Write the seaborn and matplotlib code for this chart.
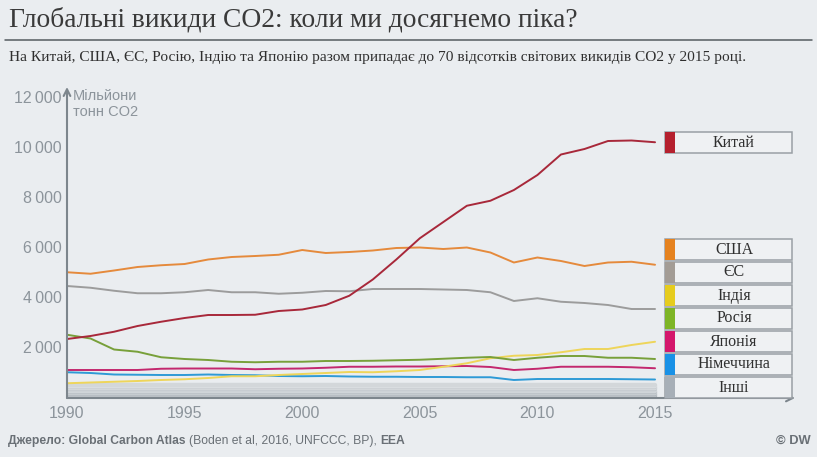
import numpy as np
import pandas as pd
import matplotlib
matplotlib.use("Agg")
import matplotlib.pyplot as plt
import seaborn as sns
from matplotlib.patches import Rectangle
from matplotlib.lines import Line2D

# ---------------- data ----------------
years = list(range(1990, 2016))
china = [2320, 2440, 2610, 2840, 3010, 3160, 3280, 3280, 3290, 3440, 3500, 3680, 4050,
         4700, 5500, 6350, 7000, 7650, 7850, 8280, 8880, 9700, 9920, 10240, 10260, 10190]
usa = [4990, 4930, 5060, 5200, 5270, 5320, 5500, 5600, 5640, 5690, 5880, 5760, 5800,
       5860, 5960, 5980, 5920, 5980, 5780, 5380, 5580, 5440, 5240, 5380, 5410, 5290]
eu = [4440, 4370, 4250, 4150, 4150, 4190, 4280, 4190, 4190, 4130, 4170, 4240, 4230,
      4320, 4320, 4320, 4300, 4280, 4190, 3840, 3950, 3810, 3760, 3680, 3520, 3520]
india = [550, 580, 610, 640, 680, 710, 760, 830, 830, 880, 920, 960, 1000,
         990, 1030, 1080, 1210, 1350, 1550, 1650, 1680, 1790, 1920, 1920, 2080, 2210]
russia = [2490, 2340, 1900, 1810, 1590, 1520, 1480, 1410, 1390, 1410, 1410, 1440, 1440,
          1450, 1470, 1490, 1530, 1570, 1600, 1480, 1570, 1640, 1640, 1570, 1570, 1520]
japan = [1080, 1080, 1080, 1080, 1130, 1140, 1140, 1140, 1110, 1130, 1140, 1170, 1210,
         1210, 1220, 1220, 1230, 1240, 1200, 1080, 1130, 1210, 1210, 1210, 1190, 1150]
germany = [990, 960, 900, 890, 880, 880, 900, 880, 870, 840, 830, 840, 820,
           810, 810, 800, 800, 790, 790, 680, 720, 720, 720, 720, 710, 700]
others_levels = [30, 75, 120, 165, 210, 260, 305, 350, 400, 445, 495]

series_names = ["Китай", "США", "ЄС", "Індія", "Росія", "Японія", "Німеччина"]
series_values = [china, usa, eu, india, russia, japan, germany]
legend_labels = ["Китай", "США", "ЄС", "Індія", "Росія", "Японія", "Німеччина", "Інші"]
y_ticks = [2000, 4000, 6000, 8000, 10000, 12000]
x_ticks = [1990, 1995, 2000, 2005, 2010, 2015]

title = "Глобальні викиди CO2: коли ми досягнемо піка?"
subtitle = "На Китай, США, ЄС, Росію, Індію та Японію разом припадає до 70 відсотків світових викидів CO2 у 2015 році."

# ---------------- styles ----------------
line_colors = {"Китай": "#a8283a", "США": "#e58a3c", "ЄС": "#9c9c9c", "Індія": "#eed55a",
               "Росія": "#78a03a", "Японія": "#c3286e", "Німеччина": "#2e9ad6"}
box_colors = {"Китай": "#b5202e", "США": "#e5821f", "ЄС": "#a39c95", "Індія": "#e6cc1e",
              "Росія": "#7eb526", "Японія": "#d4176c", "Німеччина": "#1991e6", "Інші": "#a7afb7"}
bg = "#eaedf0"
axis_gray = "#7d868d"
tick_gray = "#8c949b"

sns.set_theme(style="white")
plt.rcParams["font.family"] = ["Liberation Sans", "DejaVu Sans"]

fig = plt.figure(figsize=(8.17, 4.57), dpi=100, facecolor=bg)
ax = fig.add_axes([67 / 817, 1 - 398 / 457, (795 - 67) / 817, (398 - 87) / 457])
ax.set_facecolor("none")

# others band
odf = pd.DataFrame([(y, lvl, i) for i, lvl in enumerate(others_levels) for y in years],
                   columns=["year", "value", "level"])
others_pal = ["#a9b0b6", "#bfc5ca", "#b3bac0", "#cbd0d4", "#b9c0c5", "#d0d5d9",
              "#c3c9ce", "#d6dadd", "#c9ced2", "#dcdfe2", "#d3d7da"]
sns.lineplot(data=odf, x="year", y="value", hue="level", palette=others_pal,
             linewidth=3.2, legend=False, ax=ax)

df = pd.DataFrame([(y, v, n) for n, vals in zip(series_names, series_values)
                   for y, v in zip(years, vals)], columns=["year", "value", "country"])
draw_order = ["Німеччина", "Японія", "Індія", "Росія", "ЄС", "США", "Китай"]
for name in draw_order:
    sub = df[df["country"] == name]
    sns.lineplot(data=sub, x="year", y="value", color=line_colors[name],
                 linewidth=1.4, legend=False, ax=ax)

ax.set_xlim(1990, 2020.95)
ax.set_ylim(-40, 12400)
ax.set_xticks(x_ticks)
ax.set_xticklabels([str(t) for t in x_ticks], color=tick_gray, fontsize=11.5)
ax.set_yticks(y_ticks)
ax.set_yticklabels([f"{t:,}".replace(",", "\u2009") for t in y_ticks], color=tick_gray, fontsize=11.5)
ax.tick_params(axis="both", length=0, pad=4)
ax.tick_params(axis="x", pad=6)
ax.set_xlabel("")
ax.set_ylabel("")
for s in ax.spines.values():
    s.set_visible(False)
ax.grid(False)

# axis arrows
ax.annotate("", xy=(0, 1.0), xytext=(0, 0), xycoords="axes fraction",
            arrowprops=dict(arrowstyle="->", color=axis_gray, lw=1.5, shrinkA=0, shrinkB=0,
                            mutation_scale=12))
ax.annotate("", xy=(1.0, 0), xytext=(0, 0), xycoords="axes fraction",
            arrowprops=dict(arrowstyle="->", color=axis_gray, lw=1.5, shrinkA=0, shrinkB=0,
                            mutation_scale=12))

ax.text(73 / 817, 1 - 104 / 457, "Мільйони\nтонн CO2", transform=fig.transFigure,
        ha="left", va="center", fontsize=10.5, color=tick_gray, linespacing=1.2)

# legend boxes
box_tops = [132, 239, 262, 285, 308, 331, 354, 377]
for lab, top in zip(legend_labels, box_tops):
    h = 21
    y0 = 1 - (top + h) / 457
    fig.add_artist(Rectangle((665 / 817, y0), (792 - 665) / 817, h / 457,
                             transform=fig.transFigure, facecolor="#eff1f3",
                             edgecolor="#9aa0a5", linewidth=1.1))
    fig.add_artist(Rectangle((665 / 817, y0), 10 / 817, h / 457,
                             transform=fig.transFigure, facecolor=box_colors[lab],
                             edgecolor="none"))
    fig.text(734 / 817, y0 + h / 2 / 457, lab, ha="center", va="center",
             fontsize=11.5, color="#2f2f2f", family=["Liberation Serif", "DejaVu Serif"])

# title
fig.text(9 / 817, 1 - 20 / 457, title, ha="left", va="center", fontsize=19.8,
         color="#3a3a3a", family=["Liberation Serif", "DejaVu Serif"])
fig.add_artist(Line2D([5 / 817, 812 / 817], [1 - 40 / 457, 1 - 40 / 457],
                      transform=fig.transFigure, color="#555b60", linewidth=1.1))
fig.text(9 / 817, 1 - 58 / 457, subtitle, ha="left", va="center", fontsize=11.1,
         color="#2f2f2f", family=["Liberation Serif", "DejaVu Serif"])

# footer
foot_col = "#6a7076"
fs = 8.7
t1 = fig.text(8 / 817, 1 - 441 / 457, "Джерело: Global Carbon Atlas ", ha="left", va="center",
              fontsize=fs, color=foot_col, fontweight="bold")
fig.canvas.draw()
r = fig.canvas.get_renderer()
bb = t1.get_window_extent(r)
t2 = fig.text(bb.x1 / fig.bbox.width, 1 - 441 / 457, "(Boden et al, 2016, UNFCCC, BP), ",
              ha="left", va="center", fontsize=fs, color=foot_col)
bb2 = t2.get_window_extent(r)
fig.text(bb2.x1 / fig.bbox.width, 1 - 441 / 457, "EEA", ha="left", va="center",
         fontsize=fs, color=foot_col, fontweight="bold")
fig.text(811 / 817, 1 - 441 / 457, "© DW", ha="right", va="center", fontsize=fs + 0.6,
         color=foot_col, fontweight="bold")

fig.savefig("out.png", dpi=100, facecolor=bg)
